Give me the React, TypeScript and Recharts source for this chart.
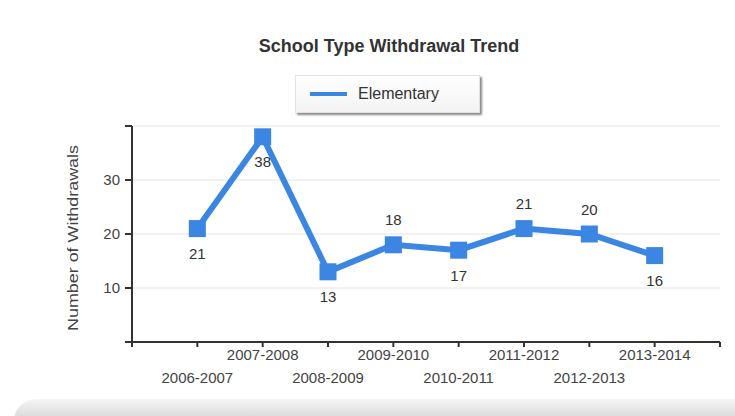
import { LineChart, Line, XAxis, YAxis, CartesianGrid, LabelList } from "recharts";

const seasons = [
  "2006-2007",
  "2007-2008",
  "2008-2009",
  "2009-2010",
  "2010-2011",
  "2011-2012",
  "2012-2013",
  "2013-2014",
];
const elementary = [21, 38, 13, 18, 17, 21, 20, 16];
const yTicks = [0, 10, 20, 30, 40];

// label placement for each point (above / below the marker)
const labelSide = ["below", "below", "below", "above", "below", "above", "above", "below"];

const BLUE = "#3b86e3";
const FONT = "'Liberation Sans', Arial, sans-serif";

const data = seasons.map((s, i) => ({ idx: i + 1, season: s, value: elementary[i] }));
const xTicks = Array.from({ length: seasons.length + 2 }, (_, i) => i);

const XTick = (props: any) => {
  const { x, y, payload } = props;
  const v = payload.value;
  if (v < 1 || v > seasons.length) return <g />;
  const upper = v % 2 === 0;
  return (
    <text
      x={x}
      y={y + (upper ? 11 : 34)}
      textAnchor="middle"
      fontSize={15}
      fill="#444"
      fontFamily={FONT}
    >
      {seasons[v - 1]}
    </text>
  );
};

const Square = (props: any) => {
  const { cx, cy, index } = props;
  return <rect key={index} x={cx - 8.5} y={cy - 8.5} width={17} height={17} fill={BLUE} />;
};

const PointLabel = (props: any) => {
  const { x, y, value, index } = props;
  const dy = labelSide[index] === "above" ? -25 : 25;
  return (
    <text
      x={x}
      y={y + dy}
      textAnchor="middle"
      dominantBaseline="central"
      fontSize={15}
      fill="#333"
      fontFamily={FONT}
    >
      {value}
    </text>
  );
};

export default function App() {
  return (
    <div style={{ position: "absolute", left: 0, top: 0, width: 735, height: 416, background: "#fff", overflow: "hidden" }}>
      <div
        style={{
          position: "absolute",
          left: 389,
          top: 36,
          transform: "translateX(-50%)",
          whiteSpace: "nowrap",
          fontFamily: FONT,
          fontWeight: "bold",
          fontSize: 18,
          color: "#333",
        }}
      >
        School Type Withdrawal Trend
      </div>
      {/* legend box */}
      <div
        style={{
          position: "absolute",
          left: 295,
          top: 75,
          width: 185,
          height: 38,
          boxSizing: "border-box",
          border: "1px solid #e2e2e2",
          boxShadow: "2px 2px 2px #8a8a8a",
          background: "linear-gradient(#ffffff, #f3f3f3)",
          display: "flex",
          alignItems: "center",
          fontFamily: FONT,
          fontSize: 16,
          color: "#333",
        }}
      >
        <span style={{ display: "inline-block", width: 37, height: 4, background: BLUE, marginLeft: 14, marginRight: 11 }} />
        <span>Elementary</span>
      </div>
      <LineChart width={735} height={416} data={data} margin={{ top: 126, right: 15, bottom: 14, left: 72 }}>
        <CartesianGrid horizontal vertical={false} stroke="#e4e4e4" />
        <XAxis
          dataKey="idx"
          type="number"
          domain={[0, seasons.length + 1]}
          ticks={xTicks}
          interval={0}
          height={60}
          tick={<XTick />}
          tickSize={5}
          stroke="#333"
          strokeWidth={2}
        />
        <YAxis
          domain={[0, 40]}
          ticks={yTicks}
          interval={0}
          width={60}
          tickSize={7}
          tickMargin={5}
          stroke="#333"
          strokeWidth={2}
          tickFormatter={(v: number) => (v === 0 || v === 40 ? "" : String(v))}
          tick={{ fontSize: 15, fill: "#444", fontFamily: FONT }}
          label={{
            content: () => (
              <text
                x={72}
                y={238}
                transform="rotate(-90 72 238)"
                textAnchor="middle"
                dominantBaseline="central"
                fontSize={15}
                textLength={186}
                lengthAdjust="spacingAndGlyphs"
                fill="#444"
                fontFamily={FONT}
              >
                Number of Withdrawals
              </text>
            ),
          }}
        />
        <Line
          dataKey="value"
          name="Elementary"
          stroke={BLUE}
          strokeWidth={6}
          dot={<Square />}
          activeDot={false}
          isAnimationActive={false}
        >
          <LabelList dataKey="value" content={<PointLabel />} />
        </Line>
      </LineChart>
      <div
        style={{
          position: "absolute",
          left: 14,
          right: -10,
          top: 399,
          height: 30,
          borderTopLeftRadius: 22,
          background: "linear-gradient(#f5f5f5, #c9c9c9)",
        }}
      />
    </div>
  );
}
